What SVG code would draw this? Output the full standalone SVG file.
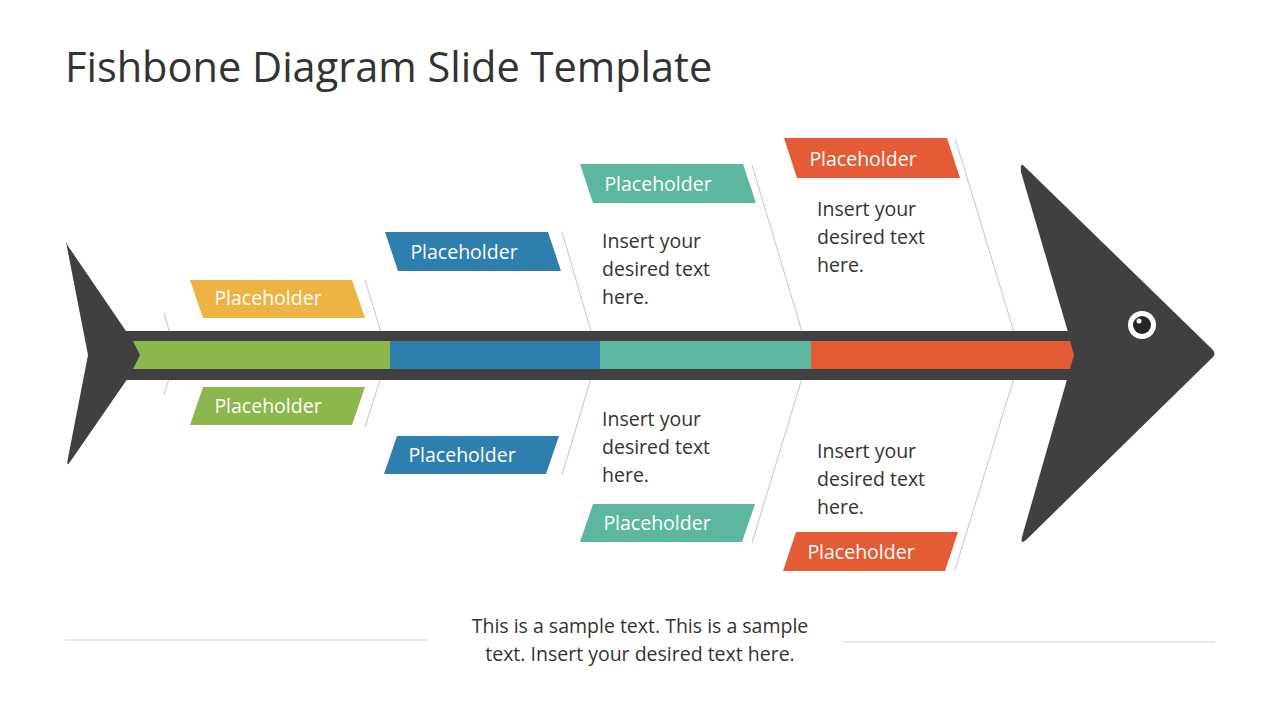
<svg xmlns="http://www.w3.org/2000/svg" width="1280" height="720" viewBox="0 0 1280 720">
<style>
.t{font-family:"Open Sans","Liberation Sans",sans-serif;fill:#333}
.lbl{font-family:"Open Sans","Liberation Sans",sans-serif;fill:#fff;font-size:19.5px;text-anchor:middle}
.body{font-size:19.5px}
.bone{fill:none;stroke:#d0d0d0;stroke-width:1.2}
.dark{fill:#404040}
</style>
<rect width="1280" height="720" fill="#fff"/>
<text class="t" x="65" y="82" font-size="41.5">Fishbone Diagram Slide Template</text>
<g id="connectors">
<polyline class="bone" points="164,313 176,355 164,395"/>
<polyline class="bone" points="365,280 388,355 365,427"/>
<polyline class="bone" points="562,232 598,355 562,475"/>
<polyline class="bone" points="752,165 809,355 752,543"/>
<polyline class="bone" points="955,138 1021,355 955,570"/>
</g>
<g id="tail"><path class="dark" d="M66,242 Q64,238 68,246 L128,334 L128,378 L70,462 Q66,468 68,458 L88,355 Z"/></g>
<g id="head">
<path class="dark" d="M1024,166 L1213,350 Q1216,354 1213,357 L1026,540 Q1020,545 1022,537 L1068,376 L1068,332 L1021,172 Q1020,162 1024,166 Z"/>
<circle cx="1142" cy="325" r="14" fill="#fff"/>
<circle cx="1142" cy="325" r="9" fill="#262626"/>
<circle cx="1139" cy="321" r="2.5" fill="#fff"/>
</g>
<g id="spine">
<rect class="dark" x="122" y="331" width="948" height="49"/>
<path d="M133,341 H390 V369 H133 L140,355 Z" fill="#8BB74D"/>
<rect x="390" y="341" width="210" height="28" fill="#2E7FAD"/>
<rect x="600" y="341" width="211" height="28" fill="#5DB7A0"/>
<path d="M811,341 H1070 L1074,355 L1070,369 H811 Z" fill="#E45B35"/>
</g>
<g id="l1"><polygon points="190,280 352,280 365,318 203,318" fill="#EDB444"/><text class="lbl" x="268" y="305">Placeholder</text></g>
<g id="l2"><polygon points="203,387 365,387 352,425 190,425" fill="#8BB74D"/><text class="lbl" x="268" y="413">Placeholder</text></g>
<g id="l3"><polygon points="385,232 548,232 561,271 398,271" fill="#2E7FAD"/><text class="lbl" x="464" y="259">Placeholder</text></g>
<g id="l4"><polygon points="397,436 559,436 546,474 384,474" fill="#2E7FAD"/><text class="lbl" x="462" y="462">Placeholder</text></g>
<g id="l5"><polygon points="580,164 743,164 756,203 593,203" fill="#5DB7A0"/><text class="lbl" x="658" y="191">Placeholder</text></g>
<g id="l6"><polygon points="593,504 755,504 742,542 580,542" fill="#5DB7A0"/><text class="lbl" x="657" y="530">Placeholder</text></g>
<g id="l7"><polygon points="784,138 947,138 960,178 797,178" fill="#E45B35"/><text class="lbl" x="863" y="166">Placeholder</text></g>
<g id="l8"><polygon points="796,532 958,532 945,571 783,571" fill="#E45B35"/><text class="lbl" x="861" y="559">Placeholder</text></g>
<g id="texts">
<text class="t body" x="602" y="248">Insert your<tspan x="602" y="276">desired text</tspan><tspan x="602" y="304">here.</tspan></text>
<text class="t body" x="602" y="426">Insert your<tspan x="602" y="454">desired text</tspan><tspan x="602" y="482">here.</tspan></text>
<text class="t body" x="817" y="216">Insert your<tspan x="817" y="244">desired text</tspan><tspan x="817" y="272">here.</tspan></text>
<text class="t body" x="817" y="458">Insert your<tspan x="817" y="486">desired text</tspan><tspan x="817" y="514">here.</tspan></text>
<text class="t body" text-anchor="middle" x="640" y="633">This is a sample text. This is a sample<tspan x="640" y="661">text. Insert your desired text here.</tspan></text>
</g>
<line x1="65" y1="640" x2="427" y2="640" stroke="#d0d0d0" stroke-width="1.2"/>
<line x1="843" y1="642" x2="1215" y2="642" stroke="#d0d0d0" stroke-width="1.2"/>
</svg>
